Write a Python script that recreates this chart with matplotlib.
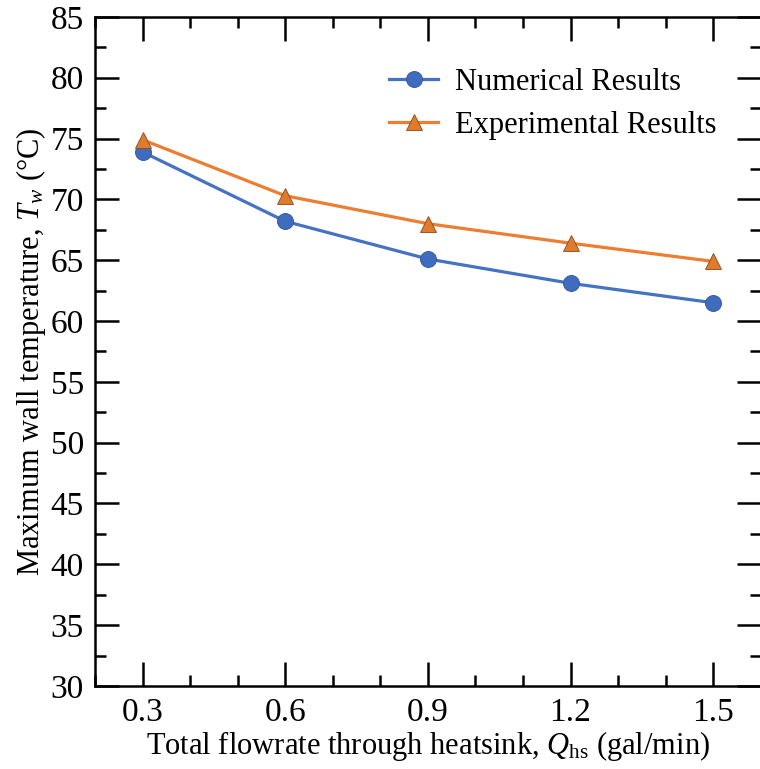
import matplotlib
matplotlib.use("Agg")
import matplotlib.pyplot as plt
from matplotlib.ticker import MultipleLocator

# data
flowrate = [0.3, 0.6, 0.9, 1.2, 1.5]
numerical = [73.9, 68.2, 65.1, 63.1, 61.5]
experimental = [74.9, 70.3, 68.0, 66.4, 64.9]
tick_labels = ['0.3', '0.6', '0.9', '1.2', '1.5']

plt.rcParams['font.family'] = ['Liberation Serif', 'DejaVu Serif']
plt.rcParams['mathtext.fontset'] = 'custom'
plt.rcParams['mathtext.rm'] = 'Liberation Serif'
plt.rcParams['mathtext.it'] = 'Liberation Serif:italic'

fig = plt.figure(figsize=(7.6, 7.69), dpi=100)
ax = fig.add_axes([0.125, 0.108, 0.876, 0.870])

ax.plot(flowrate, numerical, color='#4472C4', lw=2.3, marker='o', ms=11.5,
        mfc='#3F6CBF', mec='#2F5597', mew=0.6, label='Numerical Results')
ax.plot(flowrate, experimental, color='#ED7D31', lw=2.3, marker='^', ms=11.5,
        mfc='#E07A2E', mec='#8A4A1A', mew=0.6, label='Experimental Results')

ax.set_xlim(0.2, 1.6)
ax.set_ylim(30, 85)
ax.xaxis.set_minor_locator(MultipleLocator(0.1))
ax.yaxis.set_major_locator(MultipleLocator(5))
ax.yaxis.set_minor_locator(MultipleLocator(2.5))
ax.set_xticks(flowrate)
ax.set_xticklabels(tick_labels)

ax.tick_params(which='both', direction='in', top=True, right=True,
               width=1.8, labelsize=24, pad=8)
ax.tick_params(which='major', length=17)
ax.tick_params(which='minor', length=8)
for s in ax.spines.values():
    s.set_linewidth(1.8)

ax.set_xlabel('Total flowrate through heatsink, $Q_{\\mathrm{hs}}$ (gal/min)',
              fontsize=22, labelpad=1)
ax.set_ylabel('Maximum wall temperature, $T_{w}$ (°C)', fontsize=22, labelpad=2)

ax.legend(loc='upper right', bbox_to_anchor=(0.975, 0.965), frameon=False,
          fontsize=22, handlelength=1.6, handletextpad=0.55, labelspacing=0.45)

fig.savefig('out.png', dpi=100)
